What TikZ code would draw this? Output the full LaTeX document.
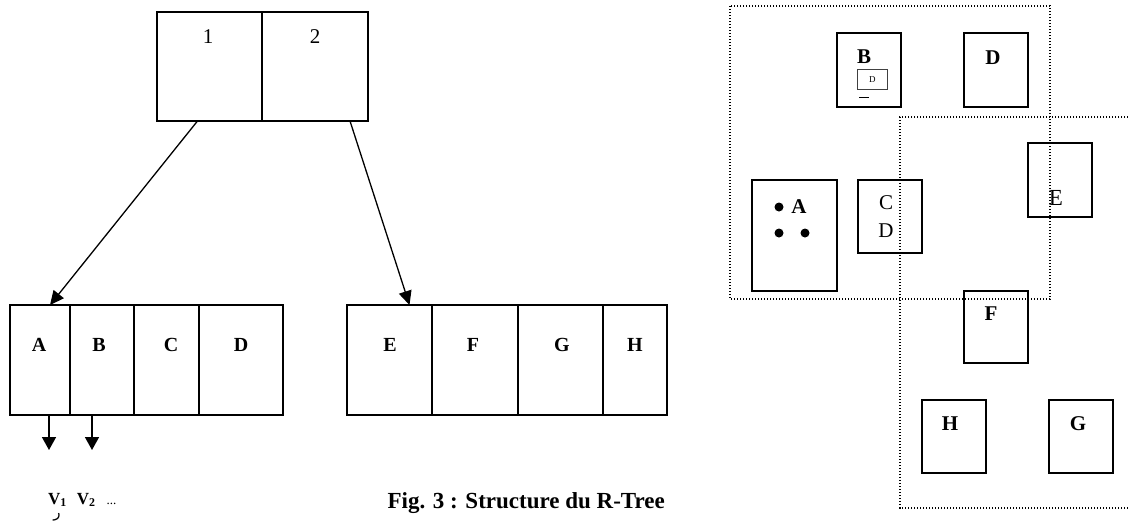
\documentclass[tikz,border=0pt]{standalone}
\usepackage{fontspec}
\setmainfont{Liberation Serif}
\newfontfamily\arabicfont[Script=Arabic]{DejaVu Sans}
\TeXXeTstate=1
\usetikzlibrary{arrows.meta}
\begin{document}
\begin{tikzpicture}[x=1pt,y=-1pt,
  cell/.style={draw,line width=1.6pt,inner sep=0pt,outer sep=0pt,anchor=north west},
  box/.style={draw,line width=1.7pt,inner sep=0pt,outer sep=0pt,anchor=north west},
  lbl/.style={inner sep=0pt,font=\bfseries\fontsize{20}{24}\selectfont},
  rlbl/.style={inner sep=0pt,font=\bfseries\fontsize{21}{25}\selectfont},
  plain/.style={inner sep=0pt,font=\fontsize{21}{25}\selectfont},
  conn/.style={line width=1.3pt,-{Triangle[length=14pt,width=13pt]}},
  down/.style={line width=1.5pt,-{Triangle[length=13pt,width=14pt]}},
  region/.style={line width=1.1pt,dash pattern=on 1.1pt off 1.9pt}]
\useasboundingbox (0,0) rectangle (1128,528);

% root node of the tree
\node[cell,minimum width=105pt,minimum height=109pt] (n1) at (157,12) {};
\node[cell,minimum width=106pt,minimum height=109pt] (n2) at (262,12) {};
\node[plain] (t1) at (208,37) {1};
\node[plain] (t2) at (315,37) {2};

% first leaf
\node[cell,minimum width=60pt,minimum height=110pt] (lA) at (10,305) {};
\node[cell,minimum width=64pt,minimum height=110pt] (lB) at (70,305) {};
\node[cell,minimum width=65pt,minimum height=110pt] (lC) at (134,305) {};
\node[cell,minimum width=84pt,minimum height=110pt] (lD) at (199,305) {};
\node[lbl] (tA) at (39,345) {A};
\node[lbl] (tB) at (99,345) {B};
\node[lbl] (tC) at (171,345) {C};
\node[lbl] (tD) at (241,345) {D};

% second leaf
\node[cell,minimum width=85pt,minimum height=110pt] (lE) at (347,305) {};
\node[cell,minimum width=86pt,minimum height=110pt] (lF) at (432,305) {};
\node[cell,minimum width=85pt,minimum height=110pt] (lG) at (518,305) {};
\node[cell,minimum width=64pt,minimum height=110pt] (lH) at (603,305) {};
\node[lbl] (tE) at (390,345) {E};
\node[lbl] (tF) at (473,345) {F};
\node[lbl] (tG) at (562,345) {G};
\node[lbl] (tH) at (635,345) {H};

% pointers from the root to the leaves
\draw[conn] ([xshift=-12pt]n1.south) -- ([xshift=10pt]lA.north);
\draw[conn] ([xshift=35pt]n2.south) -- ([xshift=20pt]lE.north);

% pointers from the entries to the data
\coordinate (v1) at (49,450);
\coordinate (v2) at (92,450);
\draw[down] (lA.south -| v1) -- (v1);
\draw[down] (lB.south -| v2) -- (v2);
\node[anchor=west,inner sep=0pt,font=\bfseries\fontsize{17}{19}\selectfont] (vs) at (48,500)
  {V\textsubscript{1}\hspace{10pt}V\textsubscript{2}\hspace{11pt}{\mdseries\fontsize{13}{13}\selectfont...}};
\node[inner sep=0pt] (reh) at (57,517) {\arabicfont\fontsize{15}{16}\selectfont\beginR ر\endR};

\node[anchor=east,inner sep=0pt,font=\bfseries\fontsize{23}{26}\selectfont] (cap) at (665,503)
  {Fig. 3 : Structure du R-Tree};

% bounding regions of the two leaves
\draw[region] (730,6) rectangle (1050,299);
\draw[region] (1140,117) -| (900,508) -- (1140,508);

% objects
\node[box,minimum width=85pt,minimum height=111pt] (rA) at (752,180) {};
\node[box,minimum width=64pt,minimum height=74pt] (rB) at (837,33) {};
\node[box,minimum width=64pt,minimum height=74pt] (rD) at (964,33) {};
\node[box,minimum width=64pt,minimum height=73pt] (rCD) at (858,180) {};
\node[box,minimum width=64pt,minimum height=74pt] (rE) at (1028,143) {};
\node[box,minimum width=64pt,minimum height=72pt] (rF) at (964,291) {};
\node[box,minimum width=64pt,minimum height=73pt] (rH) at (922,400) {};
\node[box,minimum width=64pt,minimum height=73pt] (rG) at (1049,400) {};

\node[rlbl] (tRB) at (864,57) {B};
\node[draw=black!75,line width=0.8pt,anchor=north west,inner sep=0pt,minimum width=30pt,minimum height=20pt,
  font=\fontsize{9}{10}\selectfont] (sD) at (857,69) {D};
\draw[line width=1pt] (859,97) -- (869,97);
\node[rlbl] (tRD) at (993,58) {D};

\fill (779,207) circle (4.5pt);
\fill (779,233) circle (4.5pt);
\fill (805,233) circle (4.5pt);
\node[rlbl] (tRA) at (799,207) {A};

\node[plain] (tRC) at (886,203) {C};
\node[plain] (tRD2) at (886,231) {D};
\node[inner sep=0pt,font=\fontsize{23}{26}\selectfont] (tRE) at (1056,198) {E};
\node[rlbl] (tRF) at (991,314) {F};
\node[rlbl] (tRH) at (950,424) {H};
\node[rlbl] (tRG) at (1078,424) {G};
\end{tikzpicture}
\end{document}
